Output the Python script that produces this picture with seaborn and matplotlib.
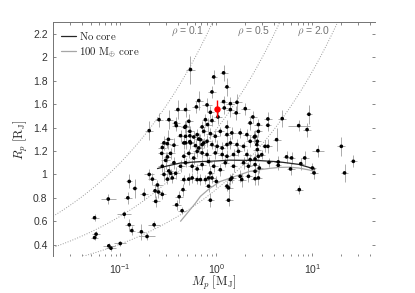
import numpy as np
import pandas as pd
import matplotlib
matplotlib.use('Agg')
import matplotlib.pyplot as plt
import seaborn as sns

# ---- planet sample ----
mass = [0.054, 0.056, 0.054, 0.075, 0.076, 0.080, 0.10, 0.11, 0.124, 0.12,
        0.124, 0.132, 0.142, 0.166, 0.177, 0.19, 0.20, 0.225, 0.216, 0.23,
        0.234, 0.244, 0.25, 0.274, 0.285, 0.274, 0.297, 0.32, 0.31, 0.334,
        0.31, 0.386, 0.44, 0.41, 0.45, 0.334, 0.377, 0.348, 0.362, 0.285,
        0.317, 0.274, 0.27, 0.362, 0.478, 0.53, 0.53, 0.459, 0.517, 0.582,
        0.459, 0.517, 0.56, 0.632, 0.683, 0.77, 0.83, 0.867, 1.0, 1.29,
        1.34, 0.867, 1.34, 1.40, 1.45, 1.77, 1.84, 2.16, 2.53, 2.74,
        0.424, 0.478, 0.56, 0.632, 0.711, 0.83, 0.94, 1.10, 1.24, 1.51,
        1.92, 2.16, 2.53, 0.632, 0.711, 0.80, 0.976, 1.15, 1.29, 1.51,
        1.70, 2.08, 2.25, 2.74, 0.607, 0.656, 0.711, 0.80, 0.90, 1.02,
        1.15, 1.29, 1.40, 1.64, 1.92, 2.25, 2.64, 0.20, 0.582, 0.656,
        0.74, 0.867, 0.976, 1.10, 1.29, 1.45, 1.77, 2.08, 2.53, 2.74,
        0.538, 0.94, 1.19, 1.29, 0.90, 0.656, 0.80, 1.19, 1.40, 1.64,
        0.62, 0.478, 0.398, 1.21, 1.40, 2.0, 1.61, 0.867, 0.321, 1.04,
        0.77, 0.517, 2.4, 0.383, 0.90, 0.81, 0.711, 0.47, 1.29, 2.74,
        2.25, 3.44, 3.44, 4.85, 4.24, 7.2, 8.8, 9.2, 2.49, 2.67,
        3.21, 3.44, 20.0, 11.4, 26.7, 21.6, 2.67, 2.97, 2.53, 3.53,
        4.41, 4.41, 5.38, 6.07, 8.32, 7.57, 5.92, 10.0, 10.4, 2.8,
        2.53, 7.3, 0.83, 0.90, 0.253, 0.377, 0.478, 0.53, 0.632, 0.683,
        0.74, 0.538, 0.478, 0.424, 0.459, 0.309]
radius = [0.63, 0.49, 0.46, 0.79, 0.39, 0.37, 0.41, 0.66, 0.94, 0.80,
          0.57, 0.52, 0.88, 0.51, 0.83, 0.47, 1.00, 0.57, 0.96, 0.86,
          0.77, 0.91, 0.85, 0.83, 1.00, 1.07, 1.12, 1.03, 0.96, 1.18,
          1.15, 0.74, 0.69, 0.81, 0.87, 1.01, 1.01, 0.97, 1.10, 1.27,
          1.30, 1.23, 1.18, 1.25, 1.27, 1.33, 1.28, 1.155, 1.18, 1.14,
          0.956, 0.96, 0.97, 0.956, 0.956, 0.956, 0.90, 1.013, 0.94, 0.90,
          0.885, 0.78, 0.78, 0.956, 0.97, 0.984, 0.956, 0.984, 1.027, 0.97,
          1.07, 1.10, 1.07, 1.047, 1.084, 1.11, 1.07, 1.04, 1.10, 1.07,
          1.10, 1.07, 1.084, 1.197, 1.184, 1.17, 1.184, 1.17, 1.155, 1.17,
          1.197, 1.17, 1.126, 1.155, 1.246, 1.226, 1.255, 1.283, 1.255, 1.24,
          1.226, 1.255, 1.269, 1.255, 1.24, 1.283, 1.255, 1.374, 1.32, 1.303,
          1.368, 1.349, 1.326, 1.368, 1.34, 1.355, 1.355, 1.34, 1.326, 1.368,
          1.896, 1.833, 1.868, 1.748, 1.705, 1.631, 1.594, 1.622, 1.605, 1.616,
          1.577, 1.554, 1.554, 1.568, 1.554, 1.562, 1.526, 1.531, 1.468, 1.491,
          1.468, 1.454, 1.491, 1.417, 1.46, 1.426, 1.406, 1.403, 1.406, 1.426,
          1.44, 1.474, 1.42, 1.477, 1.297, 1.417, 1.383, 1.514, 1.32, 1.283,
          1.24, 1.24, 1.24, 1.203, 1.112, 1.013, 1.212, 1.169, 1.132, 1.103,
          1.107, 1.078, 1.15, 1.141, 1.141, 1.092, 1.047, 1.055, 1.013, 1.055,
          0.964, 0.87, 0.97, 0.97, 1.468, 1.44, 1.411, 1.368, 1.34, 1.297,
          1.269, 1.269, 1.326, 1.331, 1.269, 1.263]
mass_err_frac = [0.10, 0.10, 0.08, 0.20, 0.15, 0.12, 0.15, 0.18, 0.08, 0.10,
                 0.12, 0.08, 0.06, 0.10, 0.10, 0.20, 0.12, 0.15, 0.10, 0.08,
                 0.10, 0.12, 0.08, 0.10, 0.10, 0.10, 0.12, 0.10, 0.08, 0.10,
                 0.08, 0.12, 0.10, 0.10, 0.08, 0.10, 0.10, 0.08, 0.10, 0.10,
                 0.12, 0.10, 0.08, 0.10, 0.10, 0.08, 0.10, 0.08, 0.10, 0.08,
                 0.10, 0.08, 0.10, 0.08, 0.10, 0.08, 0.10, 0.08, 0.10, 0.08,
                 0.10, 0.08, 0.10, 0.08, 0.10, 0.08, 0.10, 0.08, 0.10, 0.08,
                 0.10, 0.08, 0.10, 0.08, 0.10, 0.08, 0.10, 0.08, 0.10, 0.08,
                 0.10, 0.08, 0.10, 0.10, 0.08, 0.10, 0.08, 0.10, 0.08, 0.10,
                 0.08, 0.10, 0.08, 0.10, 0.08, 0.10, 0.08, 0.10, 0.08, 0.10,
                 0.08, 0.10, 0.08, 0.10, 0.08, 0.10, 0.08, 0.10, 0.08, 0.10,
                 0.08, 0.10, 0.08, 0.10, 0.08, 0.10, 0.08, 0.10, 0.08, 0.10,
                 0.12, 0.08, 0.10, 0.08, 0.10, 0.10, 0.12, 0.08, 0.10, 0.12,
                 0.10, 0.12, 0.10, 0.08, 0.10, 0.12, 0.10, 0.08, 0.10, 0.10,
                 0.08, 0.10, 0.10, 0.12, 0.08, 0.10, 0.08, 0.10, 0.08, 0.10,
                 0.08, 0.10, 0.08, 0.10, 0.10, 0.30, 0.10, 0.08, 0.08, 0.10,
                 0.08, 0.10, 0.10, 0.15, 0.08, 0.08, 0.10, 0.08, 0.10, 0.08,
                 0.10, 0.08, 0.10, 0.08, 0.10, 0.08, 0.10, 0.08, 0.10, 0.08,
                 0.10, 0.10, 0.08, 0.10, 0.10, 0.10, 0.08, 0.10, 0.08, 0.10,
                 0.08, 0.10, 0.08, 0.10, 0.08, 0.10]
radius_err = [0.03, 0.03, 0.02, 0.04, 0.02, 0.02, 0.02, 0.03, 0.06, 0.05,
              0.05, 0.04, 0.08, 0.07, 0.05, 0.03, 0.05, 0.03, 0.05, 0.06,
              0.05, 0.04, 0.05, 0.04, 0.06, 0.05, 0.07, 0.05, 0.04, 0.05,
              0.04, 0.04, 0.03, 0.05, 0.05, 0.04, 0.05, 0.04, 0.05, 0.06,
              0.08, 0.05, 0.05, 0.06, 0.05, 0.06, 0.05, 0.05, 0.04, 0.05,
              0.04, 0.05, 0.04, 0.04, 0.05, 0.04, 0.05, 0.05, 0.05, 0.04,
              0.05, 0.06, 0.05, 0.05, 0.04, 0.05, 0.06, 0.05, 0.05, 0.06,
              0.05, 0.04, 0.05, 0.04, 0.05, 0.04, 0.05, 0.05, 0.04, 0.05,
              0.05, 0.04, 0.05, 0.05, 0.04, 0.05, 0.05, 0.04, 0.05, 0.05,
              0.04, 0.05, 0.05, 0.04, 0.05, 0.04, 0.05, 0.05, 0.04, 0.05,
              0.05, 0.04, 0.05, 0.05, 0.04, 0.05, 0.05, 0.08, 0.05, 0.05,
              0.04, 0.05, 0.05, 0.04, 0.05, 0.05, 0.04, 0.05, 0.05, 0.04,
              0.12, 0.06, 0.07, 0.08, 0.05, 0.08, 0.06, 0.05, 0.06, 0.07,
              0.05, 0.06, 0.08, 0.05, 0.06, 0.05, 0.06, 0.05, 0.08, 0.06,
              0.05, 0.06, 0.05, 0.05, 0.05, 0.06, 0.05, 0.05, 0.06, 0.05,
              0.06, 0.06, 0.05, 0.07, 0.10, 0.05, 0.06, 0.08, 0.05, 0.05,
              0.05, 0.06, 0.08, 0.05, 0.05, 0.08, 0.05, 0.04, 0.05, 0.04,
              0.05, 0.04, 0.05, 0.05, 0.06, 0.05, 0.05, 0.04, 0.05, 0.04,
              0.05, 0.04, 0.05, 0.04, 0.06, 0.05, 0.05, 0.05, 0.05, 0.05,
              0.04, 0.05, 0.05, 0.05, 0.05, 0.04]

# highlighted planet
red_mass = [1.02]
red_radius = [1.562]
red_radius_err = [0.07]
red_mass_err_frac = [0.05]

# ---- model tracks ----
nocore_mass = [0.244, 0.30, 0.424, 0.70, 1.0, 1.36, 2.2, 2.85, 4.46, 7.2, 10.6]
nocore_radius = [1.05, 1.07, 1.098, 1.11, 1.115, 1.122, 1.12, 1.118, 1.108, 1.086, 1.046]
core_mass = [0.424, 0.60, 0.683, 0.85, 1.10, 1.40, 1.8, 2.2, 2.8, 3.6, 4.5, 5.8, 7.2, 9.0, 10.6]
core_radius = [0.60, 0.75, 0.813, 0.88, 0.94, 0.97, 1.0, 1.025, 1.04, 1.052, 1.06, 1.062, 1.055, 1.04, 1.027]

# iso-density curves, rho in g/cm^3
rho_levels = [0.1, 0.5, 2.0]
rho_labels = [r'$\rho$ = 0.1', r'$\rho$ = 0.5', r'$\rho$ = 2.0']
rho_label_mass = [0.50, 2.45, 10.3]
rho_jup = 1.33

df = pd.DataFrame({'Mass': mass, 'Radius': radius,
                   'dM': mass_err_frac, 'dR': radius_err})

sns.set_style('ticks')
plt.rcParams['font.family'] = ['Liberation Sans', 'DejaVu Sans']
plt.rcParams['mathtext.fontset'] = 'cm'
plt.rcParams['xtick.direction'] = 'in'
plt.rcParams['ytick.direction'] = 'in'

fig = plt.figure(figsize=(4.15, 2.93), dpi=100)
ax = fig.add_axes([0.128, 0.125, 0.776, 0.799])

# constant density lines
m_grid = np.logspace(np.log10(0.02), np.log10(45), 300)
for rho in rho_levels:
    ax.plot(m_grid, (m_grid * rho_jup / rho) ** (1 / 3), ls=':', color='0.6', lw=0.7, zorder=1)

# error bars
M = df['Mass'].values
ax.errorbar(M, df['Radius'], xerr=[M - M / (1 + df['dM'].values), M * df['dM'].values],
            yerr=df['dR'], fmt='none', ecolor='0.62', elinewidth=0.6, capsize=0, zorder=2)

# model tracks
sns.lineplot(x=nocore_mass, y=nocore_radius, ax=ax, color='0.15', lw=0.9,
             sort=False, estimator=None, label=r'$\mathrm{No\ core}$', zorder=3)
sns.lineplot(x=core_mass, y=core_radius, ax=ax, color='0.65', lw=0.9,
             sort=False, estimator=None, label=r'$\mathrm{100\ M_{\oplus}\ core}$', zorder=3)

sns.scatterplot(data=df, x='Mass', y='Radius', ax=ax, color='black', s=7,
                edgecolor='none', zorder=4, legend=False)

rm = np.array(red_mass)
ax.errorbar(rm, red_radius, yerr=red_radius_err,
            xerr=[rm - rm / (1 + np.array(red_mass_err_frac)), rm * np.array(red_mass_err_frac)],
            fmt='o', color='red', ms=3.6, elinewidth=1.0, capsize=0, zorder=5)

for lab, xm in zip(rho_labels, rho_label_mass):
    ax.text(xm, 2.22, lab, ha='center', va='center', fontsize=7.5, color='0.45')

ax.set_xscale('log')
ax.set_xlim(0.02, 45)
ax.set_ylim(0.3, 2.3)
ax.set_yticks(np.arange(0.4, 2.21, 0.2))
ax.set_yticklabels(['0.4', '0.6', '0.8', '1', '1.2', '1.4', '1.6', '1.8', '2', '2.2'])
ax.set_xlabel(r'$M_p\ [\mathrm{M_J}]$', fontsize=9, labelpad=-1)
ax.set_ylabel(r'$R_p\ [\mathrm{R_J}]$', fontsize=9, labelpad=2)

ax.tick_params(which='both', top=True, right=True, labelsize=7.5, colors='0.45',
               labelcolor='0.2', width=0.6)
ax.tick_params(which='major', length=2.5, pad=4)
ax.tick_params(which='minor', length=1.8)
for side in ['left', 'top']:
    ax.spines[side].set_color('0.45')
    ax.spines[side].set_linewidth(0.7)
for side in ['right', 'bottom']:
    ax.spines[side].set_visible(False)

ax.legend(loc='upper left', frameon=False, fontsize=7.8, handlelength=1.4,
          handletextpad=0.25, labelspacing=0.3, borderaxespad=0.3,
          bbox_to_anchor=(0.0, 1.0))

plt.savefig('out.png', dpi=100)
